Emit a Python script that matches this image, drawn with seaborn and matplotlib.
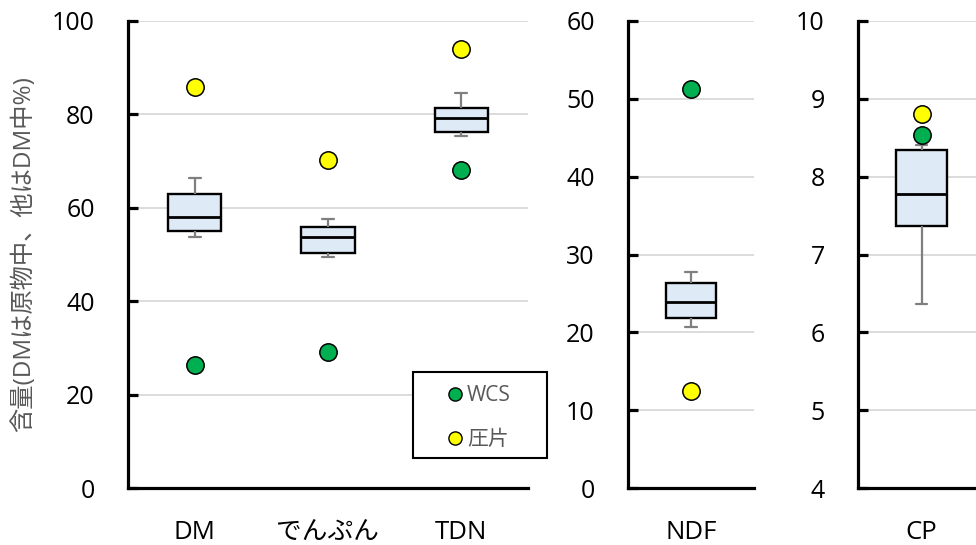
import numpy as np
import pandas as pd
import matplotlib
matplotlib.use("Agg")
import matplotlib.pyplot as plt
from matplotlib.lines import Line2D
from matplotlib.patches import Rectangle
import seaborn as sns

# ---------------- data ----------------
cats_main = ["DM", "でんぷん", "TDN"]
cat_ndf = ["NDF"]
cat_cp = ["CP"]

# box summaries: lower whisker, Q1, median, Q3, upper whisker
box_lo = {"DM": 53.8, "でんぷん": 49.5, "TDN": 75.4, "NDF": 20.7, "CP": 6.36}
box_q1 = {"DM": 55.1, "でんぷん": 50.4, "TDN": 76.2, "NDF": 21.8, "CP": 7.36}
box_med = {"DM": 58.1, "でんぷん": 53.7, "TDN": 79.3, "NDF": 23.9, "CP": 7.78}
box_q3 = {"DM": 63.0, "でんぷん": 55.9, "TDN": 81.4, "NDF": 26.4, "CP": 8.34}
box_hi = {"DM": 66.3, "でんぷん": 57.7, "TDN": 84.5, "NDF": 27.7, "CP": 8.41}

wcs_vals = {"DM": 26.3, "でんぷん": 29.1, "TDN": 68.1, "NDF": 51.2, "CP": 8.53}
atsu_vals = {"DM": 85.8, "でんぷん": 70.2, "TDN": 93.9, "NDF": 12.5, "CP": 8.81}

series_names = ["WCS", "圧片"]
ylabel_text = "含量(DMは原物中、他はDM中%)"

yticks_main = [0, 20, 40, 60, 80, 100]
yticks_ndf = [0, 10, 20, 30, 40, 50, 60]
yticks_cp = [4, 5, 6, 7, 8, 9, 10]

# ---------------- style ----------------
sns.set_theme(style="white")
plt.rcParams["font.family"] = ["Open Sans", "Noto Sans CJK JP", "DejaVu Sans"]

GREEN = "#00B050"
YELLOW = "#FFFF00"
BOXFILL = "#DEEBF7"
WHISK = "#7F7F7F"
GRID = "#D9D9D9"
LABELGRAY = "#595959"


def box_df(cats):
    rows = []
    for c in cats:
        for v in (box_lo[c], box_q1[c], box_med[c], box_q3[c], box_hi[c]):
            rows.append({"item": c, "value": v})
    return pd.DataFrame(rows)


def pts_df(cats, vals):
    return pd.DataFrame({"item": cats, "value": [vals[c] for c in cats]})


fig = plt.figure(figsize=(9.76, 5.45), dpi=100)
W, H = 976, 545
y0 = (H - 488) / H
hh = (488 - 21) / H
ax1 = fig.add_axes([128 / W, y0, 400 / W, hh])
ax2 = fig.add_axes([628 / W, y0, 126 / W, hh])
ax3 = fig.add_axes([858 / W, y0, 127 / W, hh])

panels = [
    (ax1, cats_main, (0, 100), yticks_main),
    (ax2, cat_ndf, (0, 60), yticks_ndf),
    (ax3, cat_cp, (4, 10), yticks_cp),
]

for ax, cats, ylim, yt in panels:
    sns.boxplot(
        data=box_df(cats), x="item", y="value", order=cats, ax=ax,
        color=BOXFILL, saturation=1, width=0.4, whis=np.inf,
        linecolor="black", linewidth=1.5, showfliers=False,
        whiskerprops=dict(color=WHISK, linewidth=1.6),
        capprops=dict(color=WHISK, linewidth=1.6),
        medianprops=dict(color="black", linewidth=2.0),
        boxprops=dict(edgecolor="black", linewidth=1.7),
        capwidths=0.09,
    )
    sns.stripplot(data=pts_df(cats, wcs_vals), x="item", y="value", order=cats,
                  ax=ax, jitter=False, color=GREEN, size=12.5, linewidth=1.1,
                  edgecolor="black", zorder=4)
    sns.stripplot(data=pts_df(cats, atsu_vals), x="item", y="value", order=cats,
                  ax=ax, jitter=False, color=YELLOW, size=12.5, linewidth=1.1,
                  edgecolor="black", zorder=4)
    ax.set_ylim(*ylim)
    ax.set_xlim(-0.5, len(cats) - 0.5)
    ax.set_yticks(yt)
    ax.set_yticklabels([str(t) for t in yt])
    ax.set_xlabel("")
    ax.set_ylabel("")
    ax.yaxis.grid(True, color=GRID, linewidth=1.3)
    ax.xaxis.grid(False)
    ax.set_axisbelow(True)
    for s in ("top", "right"):
        ax.spines[s].set_visible(False)
    for s in ("left", "bottom"):
        ax.spines[s].set_color("black")
        ax.spines[s].set_linewidth(2.3)
    ax.tick_params(axis="y", direction="in", length=7, width=2.3, color="black",
                   labelsize=18, pad=24, labelcolor="black", left=True)
    ax.tick_params(axis="x", length=0, labelsize=18.5, pad=23, labelcolor="black")
    ax.patch.set_alpha(0)

ax1.set_ylabel(ylabel_text, color=LABELGRAY, fontsize=17.5)
ax1.yaxis.set_label_coords(-0.23, 0.5)

# legend box
fig.add_artist(Rectangle((413 / W, 1 - 458 / H), 134 / W, 86 / H,
                         transform=fig.transFigure, facecolor="white",
                         edgecolor="black", linewidth=1.5, zorder=3))
handles = [
    Line2D([], [], marker="o", linestyle="none", markerfacecolor=GREEN,
           markeredgecolor="black", markersize=9.5, markeredgewidth=1.0),
    Line2D([], [], marker="o", linestyle="none", markerfacecolor=YELLOW,
           markeredgecolor="black", markersize=9.5, markeredgewidth=1.0),
]
leg = fig.legend(handles, series_names, loc="upper left",
                 bbox_to_anchor=(448.5 / W, 1 - 385 / H),
                 frameon=False, fontsize=15, labelcolor=LABELGRAY,
                 handlelength=0.6, handletextpad=0.28, borderpad=0,
                 borderaxespad=0, labelspacing=1.1)
leg.set_zorder(6)

fig.savefig("out.png", dpi=100)
